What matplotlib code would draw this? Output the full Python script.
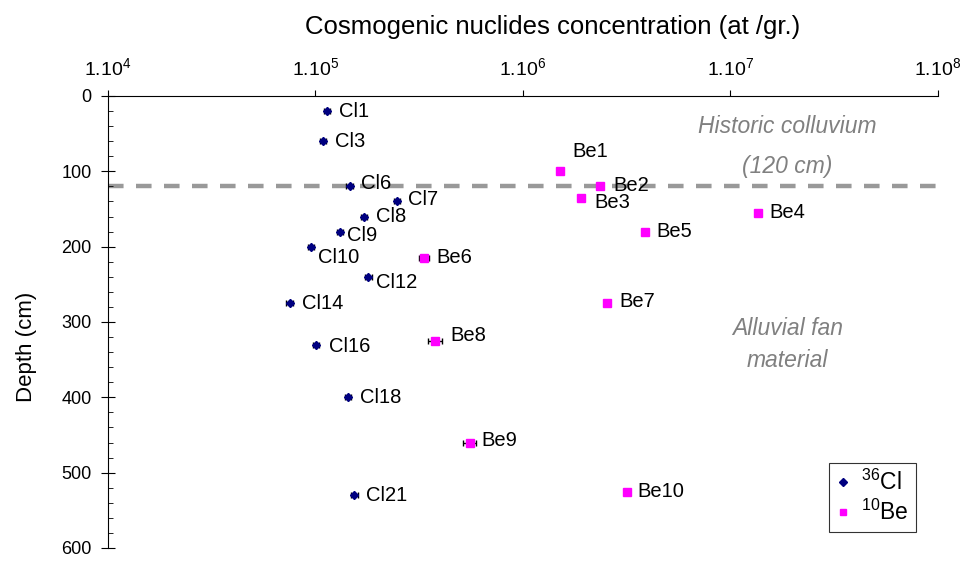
import numpy as np
import matplotlib.pyplot as plt
from matplotlib.lines import Line2D
from matplotlib.ticker import FixedLocator, MultipleLocator

plt.rcParams['font.family'] = ['Liberation Sans', 'DejaVu Sans']
plt.rcParams['mathtext.fontset'] = 'custom'
plt.rcParams['mathtext.rm'] = 'Liberation Sans'
plt.rcParams['mathtext.it'] = 'Liberation Sans:italic'

# 36Cl samples
cl_names = ["Cl1", "Cl3", "Cl6", "Cl7", "Cl8", "Cl9", "Cl10", "Cl12",
            "Cl14", "Cl16", "Cl18", "Cl21"]
cl_conc = [1.14e5, 1.09e5, 1.46e5, 2.48e5, 1.71e5, 1.31e5, 9.5e4, 1.80e5,
           7.5e4, 1.01e5, 1.44e5, 1.54e5]
cl_depth = [20, 60, 120, 140, 160, 180, 200, 240, 275, 330, 400, 530]
cl_err = [0.035, 0.035, 0.035, 0.035, 0.035, 0.035, 0.035, 0.035,
          0.035, 0.035, 0.035, 0.035]

# 10Be samples
be_names = ["Be1", "Be2", "Be3", "Be4", "Be5", "Be6", "Be7", "Be8", "Be9", "Be10"]
be_conc = [1.51e6, 2.36e6, 1.91e6, 1.35e7, 3.86e6, 3.34e5, 2.54e6, 3.78e5,
           5.53e5, 3.17e6]
be_depth = [100, 120, 135, 155, 180, 215, 275, 325, 460, 525]
be_err = [0.03, 0.03, 0.03, 0.03, 0.03, 0.06, 0.03, 0.075, 0.075, 0.03]

boundary_depth = 120
decades = [1e4, 1e5, 1e6, 1e7, 1e8]
decade_labels = [r"1.10$^{4}$", r"1.10$^{5}$", r"1.10$^{6}$", r"1.10$^{7}$", r"1.10$^{8}$"]

# label offsets in pixels (dx, dy downwards)
cl_off = {"Cl6": (11, -3), "Cl7": (11, -2), "Cl9": (7, 4), "Cl10": (7, 11),
          "Cl12": (8, 6), "Cl16": (13, 2)}
be_off = {"Be1": (12, -20), "Be2": (13, -1), "Be3": (13, 5), "Be8": (15, -5),
          "Be9": (12, -2), "Be7": (12, -2), "Be10": (10, 0)}

fig = plt.figure(figsize=(9.69, 5.67), dpi=100)
ax = fig.add_axes([108 / 969, 1 - 548 / 567, 830 / 969, 452 / 567])

ax.axhline(boundary_depth, color="#999999", lw=3.2, ls=(0, (3.5, 2.8)), zorder=1)

cl_c = np.array(cl_conc)
be_c = np.array(be_conc)
ax.errorbar(cl_c, cl_depth, xerr=cl_c * np.array(cl_err), fmt="D", ms=4,
            color="#000080", ecolor="black", elinewidth=1, capsize=2.5, zorder=3)
ax.errorbar(be_c, be_depth, xerr=be_c * np.array(be_err), fmt="s", ms=5.5,
            color="#FF00FF", mec="#FF00FF", ecolor="black", elinewidth=1,
            capsize=2.5, zorder=3)

for name, x, y in zip(cl_names, cl_conc, cl_depth):
    dx, dy = cl_off.get(name, (12, 0))
    ax.annotate(name, (x, y), xytext=(dx * 0.72, -dy * 0.72),
                textcoords="offset points", va="center", ha="left", fontsize=14.5)
for name, x, y in zip(be_names, be_conc, be_depth):
    dx, dy = be_off.get(name, (12, 0))
    ax.annotate(name, (x, y), xytext=(dx * 0.72, -dy * 0.72),
                textcoords="offset points", va="center", ha="left", fontsize=14.5)

zone_kw = dict(style="italic", color="#808080", fontsize=16.5, ha="center", va="center")
ax.text(1.88e7, 41, "Historic colluvium", **zone_kw)
ax.text(1.88e7, 94, "(120 cm)", **zone_kw)
ax.text(1.88e7, 308, "Alluvial fan", **zone_kw)
ax.text(1.88e7, 351, "material", **zone_kw)

ax.set_xscale("log")
ax.set_xlim(1e4, 1e8)
ax.set_ylim(600, 0)
ax.xaxis.tick_top()
ax.xaxis.set_major_locator(FixedLocator(decades))
ax.xaxis.set_minor_locator(FixedLocator([]))
ax.set_xticklabels(decade_labels)
ax.yaxis.set_major_locator(MultipleLocator(100))
ax.yaxis.set_minor_locator(MultipleLocator(20))
ax.set_ylabel("Depth (cm)", fontsize=16)
ax.yaxis.set_label_coords(-0.085, 0.445)

fig.text(553 / 969, 1 - 27 / 567, "Cosmogenic nuclides concentration (at /gr.)",
         fontsize=18.5, ha="center", va="center")

ax.tick_params(axis="x", which="major", direction="out", length=4, labelsize=14, pad=8)
ax.tick_params(axis="y", which="major", direction="inout", length=9.5, labelsize=13, pad=7)
ax.tick_params(axis="y", which="minor", direction="in", length=3.6)

for s in ["right", "bottom"]:
    ax.spines[s].set_visible(False)

handles = [Line2D([], [], ls="none", marker="D", ms=4, color="#000080"),
           Line2D([], [], ls="none", marker="s", ms=5, color="#FF00FF")]
leg = ax.legend(handles, [r"$^{36}$Cl", r"$^{10}$Be"], loc="lower left",
                bbox_to_anchor=(829 / 969, 1 - 532 / 567),
                bbox_transform=fig.transFigure, fontsize=16.5, frameon=True,
                fancybox=False, edgecolor="black", handlelength=0.6,
                handletextpad=0.5, borderpad=0.3, labelspacing=0.2,
                borderaxespad=0)
leg.get_frame().set_linewidth(0.8)

fig.savefig("out.png", dpi=100)
